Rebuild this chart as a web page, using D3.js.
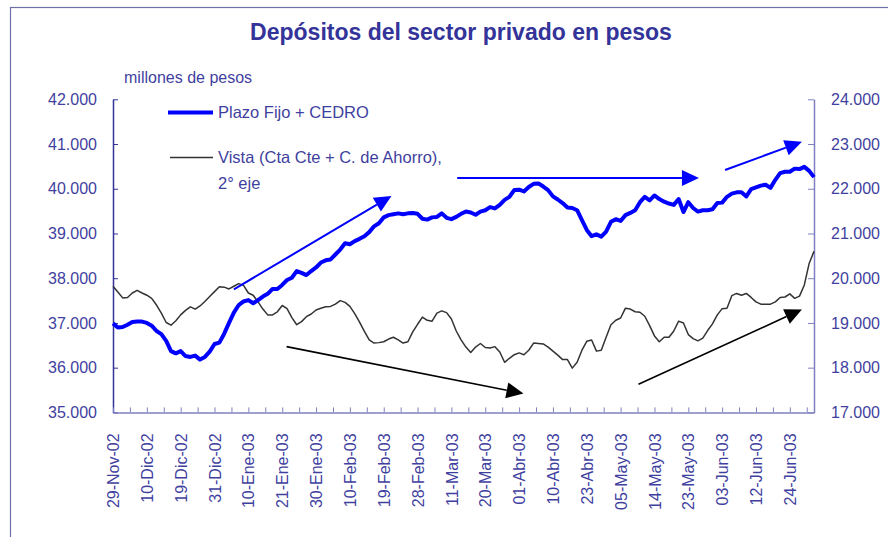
<!DOCTYPE html>
<html>
<head>
<meta charset="utf-8">
<script src="https://cdn.jsdelivr.net/npm/d3@7"></script>
<style>
  body { margin: 0; background: #fff; }
  svg { display: block; font-family: "Liberation Sans", Arial, sans-serif; }
</style>
</head>
<body>
<div id="chart"></div>
<script>
// labels under the x axis, one every 7 business days
const dateLabels = ["29-Nov-02", "10-Dic-02", "19-Dic-02", "31-Dic-02", "10-Ene-03", "21-Ene-03",
  "30-Ene-03", "10-Feb-03", "19-Feb-03", "28-Feb-03", "11-Mar-03", "20-Mar-03", "01-Abr-03",
  "10-Abr-03", "23-Abr-03", "05-May-03", "14-May-03", "23-May-03", "03-Jun-03", "12-Jun-03", "24-Jun-03"];
const labelStep = 7;

// Plazo Fijo + CEDRO (left axis, millones de pesos)
const plazoFijo = [36990, 36900, 36910, 36960, 37020, 37030, 37030, 37000, 36940, 36820,
  36750, 36600, 36370, 36320, 36370, 36260, 36240, 36270, 36180, 36240,
  36360, 36530, 36560, 36760, 37000, 37230, 37400, 37480, 37510, 37440,
  37510, 37590, 37650, 37760, 37760, 37850, 37960, 38010, 38160, 38120,
  38070, 38160, 38240, 38350, 38400, 38420, 38530, 38640, 38780, 38760,
  38830, 38880, 38940, 39030, 39160, 39230, 39360, 39410, 39430, 39450,
  39430, 39450, 39460, 39440, 39330, 39310, 39360, 39370, 39450, 39350,
  39320, 39370, 39440, 39490, 39470, 39420, 39490, 39520, 39590, 39560,
  39640, 39750, 39820, 39970, 39980, 39940, 40040, 40110, 40120, 40050,
  39970, 39830, 39760, 39680, 39580, 39570, 39520, 39300, 39080, 38940,
  38980, 38930, 39040, 39260, 39320, 39280, 39410, 39460, 39520, 39700,
  39820, 39740, 39850, 39770, 39710, 39670, 39640, 39770, 39480, 39700,
  39570, 39490, 39520, 39520, 39540, 39680, 39690, 39820, 39890, 39920,
  39920, 39830, 39990, 40030, 40070, 40090, 40020, 40200, 40350, 40380,
  40380, 40450, 40440, 40490, 40400, 40260];

// Vista (Cta Cte + C. de Ahorro), right axis
const vista = [19820, 19690, 19560, 19570, 19670, 19730, 19670, 19620, 19550, 19400,
  19220, 19010, 18950, 19050, 19180, 19280, 19360, 19310, 19380, 19480,
  19590, 19700, 19810, 19800, 19760, 19820, 19880, 19840, 19670, 19620,
  19470, 19310, 19180, 19180, 19250, 19390, 19320, 19120, 18960, 19030,
  19140, 19200, 19290, 19330, 19360, 19370, 19420, 19500, 19460, 19370,
  19210, 19020, 18810, 18620, 18550, 18560, 18580, 18640, 18680, 18620,
  18550, 18580, 18800, 18970, 19130, 19060, 19040, 19220, 19270, 19230,
  19090, 18820, 18620, 18460, 18340, 18460, 18540, 18450, 18440, 18470,
  18350, 18120, 18210, 18290, 18330, 18290, 18390, 18550, 18540, 18530,
  18460, 18370, 18280, 18180, 18180, 17990, 18120, 18390, 18590, 18620,
  18370, 18390, 18680, 18960, 19060, 19110, 19330, 19310, 19250, 19240,
  19150, 18940, 18710, 18580, 18680, 18680, 18820, 19040, 19000, 18740,
  18650, 18600, 18660, 18830, 18980, 19180, 19320, 19330, 19610, 19660,
  19620, 19660, 19570, 19470, 19420, 19420, 19420, 19470, 19570, 19580,
  19650, 19550, 19600, 19850, 20330, 20600];

// trend arrows drawn on the chart: [index, value] start and end
const blueArrows = [
  [[25, 37750], [57.6, 39840]],
  [[71.2, 40240], [121.2, 40240]],
  [[126.6, 40420], [142.5, 41050]]
];
const blackArrows = [
  [[35.9, 18470], [84.9, 17420]],
  [[108.7, 17630], [142.5, 19300]]
];

const width = 888, height = 537;
const margin = { top: 99.3, right: 74, bottom: 124.6, left: 113 };
const navy = "#333399";
const labelColor = "#3f3fa0";
const axisLight = "#8080c0";
const n = plazoFijo.length;

const svg = d3.select("#chart").append("svg")
  .attr("width", width)
  .attr("height", height);

svg.append("rect").attr("width", width).attr("height", height).attr("fill", "#fff");

// outer frame
svg.append("rect")
  .attr("x", 10.5).attr("y", 7.5)
  .attr("width", 900).attr("height", 600)
  .attr("fill", "none")
  .attr("stroke", "#7070a8")
  .attr("stroke-width", 1.2);

const x = d3.scaleLinear().domain([0, n - 1]).range([margin.left, width - margin.right]);
const yLeft = d3.scaleLinear().domain([35000, 42000]).range([height - margin.bottom, margin.top]);
const yRight = d3.scaleLinear().domain([17000, 24000]).range([height - margin.bottom, margin.top]);

const locale = d3.formatLocale({ decimal: ",", thousands: ".", grouping: [3], currency: ["$", ""] });
const fmt = locale.format(",.0f");

// title
svg.append("text")
  .attr("x", 461).attr("y", 40)
  .attr("text-anchor", "middle")
  .attr("fill", navy)
  .style("font-size", "23px")
  .style("font-weight", "bold")
  .text("Depósitos del sector privado en pesos");

svg.append("text")
  .attr("x", 124).attr("y", 83)
  .attr("fill", labelColor)
  .style("font-size", "16px")
  .text("millones de pesos");

// left axis
const leftAxis = d3.axisLeft(yLeft)
  .tickValues(d3.range(35000, 42001, 1000))
  .tickFormat(fmt)
  .tickSizeInner(-5).tickSizeOuter(0).tickPadding(16);

const gl = svg.append("g")
  .attr("transform", `translate(${margin.left},0)`)
  .call(leftAxis);
gl.select(".domain").attr("stroke", navy).attr("stroke-width", 1.5);
gl.selectAll(".tick line").attr("stroke", navy);
gl.selectAll("text").attr("fill", labelColor).style("font-size", "16px").style("font-family", "Liberation Sans, Arial");

// right axis
const rightAxis = d3.axisRight(yRight)
  .tickValues(d3.range(17000, 24001, 1000))
  .tickFormat(fmt)
  .tickSizeInner(-6).tickSizeOuter(0).tickPadding(17);

const gr = svg.append("g")
  .attr("transform", `translate(${width - margin.right},0)`)
  .call(rightAxis);
gr.select(".domain").attr("stroke", axisLight).attr("stroke-width", 1.5);
gr.selectAll(".tick line").attr("stroke", axisLight);
gr.selectAll("text").attr("fill", labelColor).style("font-size", "16px").style("font-family", "Liberation Sans, Arial");

// bottom axis: tick every half label step, label every step
const bottomAxis = d3.axisBottom(x)
  .tickValues(d3.range(0, n, labelStep / 2))
  .tickFormat((d) => (d % labelStep === 0 ? dateLabels[d / labelStep] || "" : ""))
  .tickSizeInner(-5).tickSizeOuter(0).tickPadding(0);

const gb = svg.append("g")
  .attr("transform", `translate(0,${height - margin.bottom})`)
  .call(bottomAxis);
gb.select(".domain").attr("stroke", axisLight).attr("stroke-width", 1.5);
gb.selectAll(".tick line").attr("stroke", axisLight);
gb.selectAll("text")
  .attr("fill", labelColor)
  .style("font-size", "16px")
  .style("font-family", "Liberation Sans, Arial")
  .attr("text-anchor", "end")
  .attr("transform", "rotate(-90)")
  .attr("x", -21)
  .attr("y", 0)
  .attr("dy", "0.35em");

// series
const lineLeft = d3.line().x((d, i) => x(i)).y((d) => yLeft(d));
const lineRight = d3.line().x((d, i) => x(i)).y((d) => yRight(d));

svg.append("path")
  .datum(vista)
  .attr("d", lineRight)
  .attr("fill", "none")
  .attr("stroke", "#333333")
  .attr("stroke-width", 1.5)
  .attr("stroke-linejoin", "round");

svg.append("path")
  .datum(plazoFijo)
  .attr("d", lineLeft)
  .attr("fill", "none")
  .attr("stroke", "#0000ff")
  .attr("stroke-width", 4)
  .attr("stroke-linejoin", "round");

// arrows
function drawArrow(p0, p1, color, width) {
  const dx = p1[0] - p0[0], dy = p1[1] - p0[1];
  const len = Math.sqrt(dx * dx + dy * dy);
  const ux = dx / len, uy = dy / len;
  const headLen = 17, headW = 8;
  const bx = p1[0] - ux * headLen, by = p1[1] - uy * headLen;
  svg.append("line")
    .attr("x1", p0[0]).attr("y1", p0[1])
    .attr("x2", bx).attr("y2", by)
    .attr("stroke", color).attr("stroke-width", width);
  svg.append("polygon")
    .attr("points", [
      [p1[0], p1[1]],
      [bx - uy * headW, by + ux * headW],
      [bx + uy * headW, by - ux * headW]
    ].map((p) => p.join(",")).join(" "))
    .attr("fill", color);
}

blueArrows.forEach((a) => {
  drawArrow([x(a[0][0]), yLeft(a[0][1])], [x(a[1][0]), yLeft(a[1][1])], "#0000ff", 2);
});
blackArrows.forEach((a) => {
  drawArrow([x(a[0][0]), yRight(a[0][1])], [x(a[1][0]), yRight(a[1][1])], "#000000", 1.6);
});

// legend
const legend = svg.append("g").style("font-size", "16.5px").attr("fill", labelColor);
legend.append("line")
  .attr("x1", 168).attr("x2", 213).attr("y1", 112.5).attr("y2", 112.5)
  .attr("stroke", "#0000ff").attr("stroke-width", 4);
legend.append("text").attr("x", 218).attr("y", 118).text("Plazo Fijo + CEDRO");
legend.append("line")
  .attr("x1", 170).attr("x2", 213).attr("y1", 157.5).attr("y2", 157.5)
  .attr("stroke", "#333333").attr("stroke-width", 1.5);
legend.append("text").attr("x", 218).attr("y", 163).text("Vista (Cta Cte + C. de Ahorro),");
legend.append("text").attr("x", 218).attr("y", 189).text("2° eje");
</script>
</body>
</html>
